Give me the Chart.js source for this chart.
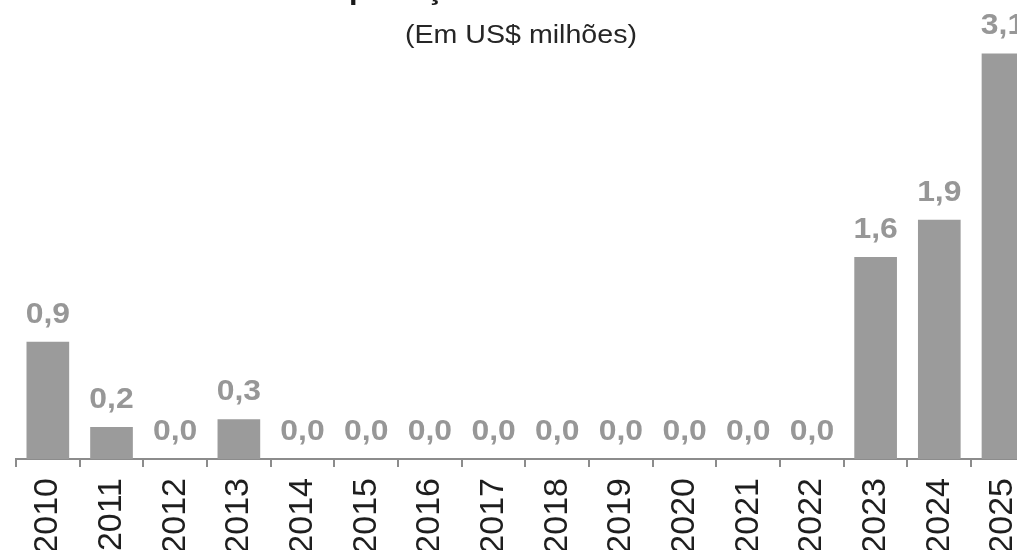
<!DOCTYPE html>
<html>
<head>
<meta charset="utf-8">
<script src="https://cdn.jsdelivr.net/npm/chart.js@4"></script>
<style>
  html, body { margin: 0; padding: 0; background: #ffffff; overflow: hidden; width: 1017px; height: 550px; }
  #wrap { position: relative; width: 1055px; height: 560px; }
  #c { position: absolute; left: 0; top: 0; }
  .ttl { position: absolute; left: 0; width: 1042px; text-align: center; font-family: "Liberation Sans", Arial, sans-serif; white-space: nowrap; transform: scaleX(1.1); transform-origin: 521px 0; }
  #title { top: -23.7px; font-size: 28px; line-height: 28px; font-weight: bold; color: #1a1a1a; }
  #subtitle { top: 21.3px; font-size: 26px; line-height: 26px; color: #262626; }
</style>
</head>
<body>
<div id="wrap">
  <canvas id="c" width="1055" height="560"></canvas>
  <div class="ttl" id="title">Importações de Fertilizantes</div>
  <div class="ttl" id="subtitle">(Em US$ milhões)</div>
</div>
<script>
const categories = ['2010','2011','2012','2013','2014','2015','2016','2017','2018','2019','2020','2021','2022','2023','2024','2025'];
const values = [0.9, 0.245, 0, 0.305, 0, 0, 0, 0, 0, 0, 0, 0, 0, 1.55, 1.835, 3.11];
const valueLabels = ['0,9','0,2','0,0','0,3','0,0','0,0','0,0','0,0','0,0','0,0','0,0','0,0','0,0','1,6','1,9','3,1'];

const labelPlugin = {
  id: 'valueLabels',
  afterDatasetsDraw(chart) {
    const ctx = chart.ctx;
    const meta = chart.getDatasetMeta(0);
    ctx.save();
    ctx.font = 'bold 29px "Liberation Sans", Arial, sans-serif';
    ctx.fillStyle = '#979797';
    ctx.textAlign = 'center';
    ctx.textBaseline = 'alphabetic';
    meta.data.forEach((bar, i) => {
      ctx.save();
      ctx.translate(bar.x, bar.y - 19);
      ctx.scale(1.1, 1);
      ctx.fillText(valueLabels[i], 0, 0);
      ctx.restore();
    });
    ctx.restore();
  }
};

new Chart(document.getElementById('c'), {
  type: 'bar',
  data: {
    labels: categories,
    datasets: [{
      data: values,
      backgroundColor: '#9b9b9b',
      borderWidth: 0,
      barPercentage: 0.67,
      categoryPercentage: 1.0
    }]
  },
  options: {
    responsive: false,
    devicePixelRatio: 1,
    animation: false,
    layout: { padding: { left: 16, right: 7, top: 0, bottom: 0 } },
    plugins: { legend: { display: false }, title: { display: false }, tooltip: { enabled: false } },
    scales: {
      x: {
        offset: true,
        grid: { display: true, drawOnChartArea: false, drawTicks: true, tickLength: 8, offset: true, color: '#8c8c8c', lineWidth: 2 },
        border: { display: true, color: '#8c8c8c', width: 2 },
        ticks: {
          autoSkip: false,
          minRotation: 90,
          maxRotation: 90,
          padding: 11,
          color: '#1e1e1e',
          font: { family: '"Liberation Sans", Arial, sans-serif', size: 34 }
        },
        afterFit(scale) { scale.height = 101; }
      },
      y: {
        display: false,
        min: 0,
        max: 3.52
      }
    }
  },
  plugins: [labelPlugin]
});
</script>
</body>
</html>
